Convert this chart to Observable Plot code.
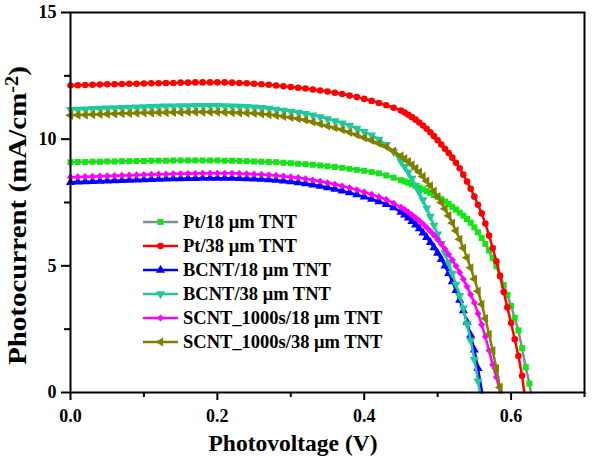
<!DOCTYPE html>
<html><head><meta charset="utf-8">
<script src="https://cdn.jsdelivr.net/npm/d3@7"></script>
<script src="https://cdn.jsdelivr.net/npm/@observablehq/plot@0.6"></script>
<style>body{margin:0;background:#fff} svg{display:block}</style>
</head><body><div id="chart"></div>
<script>
// Voltage grid (V)
const voltage = [0,0.01,0.02,0.03,0.04,0.05,0.06,0.07,0.08,0.09,0.10,0.11,0.12,0.13,0.14,0.15,0.16,0.17,0.18,0.19,0.20,0.21,0.22,0.23,0.24,0.25,0.26,0.27,0.28,0.29,0.30,0.31,0.32,0.33,0.34,0.35,0.36,0.37,0.38,0.39,0.40,0.41,0.42,0.43,0.44,
0.45,0.455,0.46,0.465,0.47,0.475,0.48,0.485,0.49,0.495,0.50,0.505,0.51,0.515,0.52,0.525,0.53,0.535,0.54,0.545,0.55,0.555,0.56,0.565,0.57,0.575,0.58,0.585,0.59,0.595,0.60,0.605,0.61,0.615,0.62,0.625];

const seriesNames = ["Pt/18 μm TNT","Pt/38 μm TNT","BCNT/18 μm TNT","BCNT/38 μm TNT","SCNT_1000s/18 μm TNT","SCNT_1000s/38 μm TNT"];

// Photocurrent (mA/cm^2) at each voltage grid point
const ptTNT18 = [9.09,9.10,9.10,9.11,9.11,9.12,9.12,9.13,9.13,9.14, 9.14,9.15,9.15,9.15,9.16,9.16,9.16,9.16,9.16,9.16, 9.16,9.15,9.15,9.14,9.13,9.12,9.11,9.10,9.09,9.07, 9.05,9.03,9.01,8.99,8.96,8.93,8.90,8.87,8.83,8.79, 8.75,8.70,8.65,8.57,8.48,
8.38,8.33,8.28,8.22,8.16,8.09,8.02,7.95,7.88,7.80, 7.72,7.63,7.54,7.44,7.33,7.22,7.10,6.98,6.85,6.70, 6.52,6.32,6.10,5.86,5.60,5.30,4.98,4.62,4.25,3.85, 3.42,2.95,2.45,1.75,1.00,0.35];
const ptTNT38 = [12.12,12.13,12.14,12.15,12.16,12.17,12.17,12.18,12.19,12.19, 12.20,12.21,12.21,12.22,12.22,12.23,12.23,12.24,12.24,12.24, 12.24,12.24,12.23,12.22,12.21,12.19,12.17,12.15,12.12,12.09, 12.06,12.03,12.00,11.96,11.92,11.88,11.83,11.78,11.72,11.66, 11.59,11.51,11.43,11.34,11.24,
11.13,11.05,10.96,10.87,10.77,10.66,10.54,10.41,10.27,10.12, 9.96,9.79,9.62,9.45,9.27,9.07,8.85,8.60,8.33,8.04, 7.73,7.41,7.07,6.67,6.20,5.70,5.18,4.60,3.97,3.36, 2.74,2.10,1.44,0.66];
const bcntTNT18 = [8.30,8.31,8.32,8.33,8.34,8.35,8.36,8.37,8.38,8.39, 8.40,8.41,8.42,8.43,8.44,8.44,8.45,8.45,8.46,8.46, 8.46,8.46,8.46,8.45,8.44,8.43,8.42,8.40,8.38,8.35, 8.32,8.29,8.25,8.20,8.15,8.09,8.03,7.96,7.89,7.81, 7.72,7.63,7.54,7.43,7.30,
7.12,7.01,6.89,6.76,6.62,6.47,6.30,6.12,5.93,5.72, 5.50,5.26,5.00,4.70,4.38,4.03,3.65,3.23,2.78,2.27, 1.68,0.95];
const bcntTNT38 = [11.17,11.18,11.19,11.20,11.21,11.22,11.23,11.24,11.25,11.26, 11.27,11.28,11.29,11.30,11.30,11.31,11.31,11.32,11.32,11.32, 11.32,11.31,11.30,11.29,11.28,11.26,11.24,11.21,11.18,11.14, 11.10,11.06,11.01,10.95,10.88,10.80,10.72,10.63,10.54,10.43, 10.30,10.16,9.99,9.78,9.50,
9.12,8.92,8.70,8.45,8.18,7.90,7.60,7.28,6.95,6.60, 6.25,5.88,5.50,5.10,4.70,4.27,3.82,3.33,2.70,2.05, 1.30,0.45];
const scntTNT18 = [8.50,8.51,8.52,8.53,8.54,8.55,8.56,8.57,8.58,8.59, 8.60,8.61,8.62,8.62,8.63,8.63,8.64,8.64,8.65,8.65, 8.65,8.65,8.65,8.64,8.63,8.62,8.61,8.59,8.57,8.54, 8.51,8.48,8.44,8.39,8.34,8.28,8.22,8.15,8.08,8.00, 7.91,7.82,7.72,7.62,7.47,
7.31,7.22,7.12,7.01,6.90,6.78,6.65,6.51,6.37,6.21, 6.04,5.86,5.66,5.45,5.23,4.99,4.74,4.47,4.18,3.87, 3.54,3.12,2.68,2.20,1.66,1.10,0.60];
const scntTNT38 = [10.94,10.95,10.96,10.97,10.98,10.99,11.00,11.01,11.02,11.03, 11.04,11.04,11.05,11.05,11.06,11.06,11.07,11.07,11.07,11.07, 11.07,11.06,11.05,11.04,11.03,11.02,11.00,10.97,10.94,10.90, 10.86,10.81,10.76,10.68,10.60,10.52,10.45,10.37,10.27,10.17, 10.06,9.95,9.83,9.70,9.53,
9.34,9.23,9.12,8.99,8.85,8.70,8.53,8.35,8.16,7.95, 7.73,7.50,7.25,6.98,6.69,6.38,6.05,5.70,5.32,4.92, 4.48,4.00,3.48,2.92,2.30,1.65,0.95,0.20];

// Open-circuit voltage of each curve (J = 0)
const openCircuitVoltage = [0.627, 0.618, 0.5605, 0.5575, 0.585, 0.5865];

const xMajorTicks = [0, 0.2, 0.4, 0.6];
const xMinorTicks = [0.1, 0.3, 0.5, 0.7];
const yMajorTicks = [0, 5, 10, 15];
const yMinorTicks = [2.5, 7.5, 12.5];

const seriesValues = [ptTNT18, ptTNT38, bcntTNT18, bcntTNT38, scntTNT18, scntTNT38];
const lineColors = ["#7f8f96", "#ff0000", "#0000ff", "#20c89c", "#ff00ff", "#808000"];
const markerColors = ["#10e810", "#ff0000", "#0000ff", "#20c89c", "#ff00ff", "#808000"];

const sqrt3 = Math.sqrt(3);
const triangleDown = {draw(ctx, size) {
  const y = -Math.sqrt(size / (sqrt3 * 3));
  ctx.moveTo(0, -y * 2); ctx.lineTo(sqrt3 * y, y); ctx.lineTo(-sqrt3 * y, y); ctx.closePath();
}};
const triangleLeft = {draw(ctx, size) {
  const y = -Math.sqrt(size / (sqrt3 * 3));
  ctx.moveTo(y * 2, 0); ctx.lineTo(-y, sqrt3 * y); ctx.lineTo(-y, -sqrt3 * y); ctx.closePath();
}};
const markerSymbols = ["square", "circle", "triangle", triangleDown, "diamond2", triangleLeft];
const markerR = [3.4, 3.3, 3.4, 3.4, 3.2, 3.4];

const seriesMarks = [];
seriesValues.forEach((vals, i) => {
  const pts = vals.map((J, k) => ({V: voltage[k], J}));
  const linePts = pts.concat([{V: openCircuitVoltage[i], J: 0}]);
  seriesMarks.push(Plot.line(linePts, {x: "V", y: "J", stroke: lineColors[i], strokeWidth: 2.5}));
  seriesMarks.push(Plot.dot(pts, {x: "V", y: "J", symbol: markerSymbols[i], fill: markerColors[i], stroke: "none", r: markerR[i]}));
});

const font = "'Liberation Serif', 'Times New Roman', serif";

const chart = Plot.plot({
  width: 600,
  height: 457,
  marginLeft: 70,
  marginRight: 16,
  marginTop: 12,
  marginBottom: 65,
  style: {fontFamily: font, fontWeight: "bold", fontSize: "18px", color: "black", background: "white"},
  x: {domain: [0, 0.7]},
  y: {domain: [0, 15]},
  marks: [
    ...seriesMarks,
    Plot.axisX({ticks: xMajorTicks, tickSize: 8, tickPadding: 9, tickFormat: d => d.toFixed(1), strokeWidth: 2, label: null, fontSize: 18, fontWeight: "bold"}),
    Plot.axisX({ticks: xMinorTicks, tickSize: 5, tickFormat: () => "", strokeWidth: 2, label: null}),
    Plot.axisY({ticks: yMajorTicks, tickSize: 9, tickPadding: 5, strokeWidth: 2, label: null, fontSize: 18, fontWeight: "bold"}),
    Plot.axisY({ticks: yMinorTicks, tickSize: 6, tickFormat: () => "", strokeWidth: 2, label: null}),
    Plot.frame({stroke: "black", strokeWidth: 2})
  ]
});

document.getElementById("chart").appendChild(chart);
const svg = d3.select(chart);

// Axis titles
svg.append("text")
  .attr("x", 293).attr("y", 451)
  .attr("text-anchor", "middle")
  .attr("font-family", font).attr("font-weight", "bold").attr("font-size", 23.5)
  .attr("fill", "black")
  .text("Photovoltage (V)");

const yt = svg.append("text")
  .attr("transform", "translate(26,365) rotate(-90) scale(1,0.88)")
  .attr("text-anchor", "start")
  .attr("font-family", font).attr("font-weight", "bold").attr("font-size", 29)
  .attr("fill", "black");
yt.append("tspan").text("Photocurrent (mA/cm");
yt.append("tspan").attr("dy", "-0.45em").attr("font-size", "0.7em").text("-2");
yt.append("tspan").attr("dy", "0.32em").text(")");

// Legend
const legend = svg.append("g");
seriesNames.forEach((name, i) => {
  const y = 222 + 24 * i;
  legend.append("line").attr("x1", 143).attr("x2", 178).attr("y1", y).attr("y2", y)
    .attr("stroke", lineColors[i]).attr("stroke-width", 2.5);
  const sym = typeof markerSymbols[i] === "string"
    ? ({square: d3.symbolSquare, circle: d3.symbolCircle, triangle: d3.symbolTriangle, diamond2: d3.symbolDiamond2})[markerSymbols[i]]
    : markerSymbols[i];
  legend.append("path")
    .attr("transform", `translate(160.5,${y})`)
    .attr("d", d3.symbol(sym, Math.PI * markerR[i] * markerR[i])())
    .attr("fill", markerColors[i]);
  legend.append("text").attr("x", 183).attr("y", y).attr("dy", "0.35em")
    .attr("text-anchor", "start")
    .attr("font-family", font).attr("font-weight", "bold").attr("font-size", 18.5)
    .attr("fill", "black").text(name);
});
</script>
</body></html>
